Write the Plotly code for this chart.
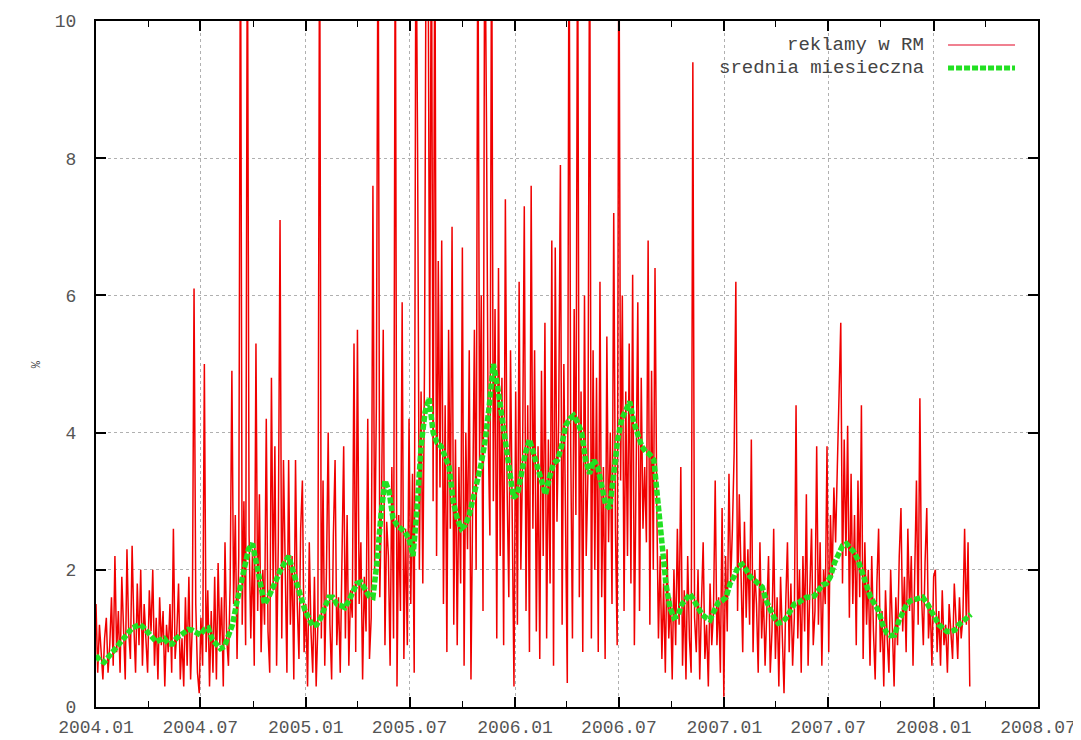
import pandas as pd
import plotly.graph_objects as go

# daily share of ads (sampled every 3 days), percent
red_start = "2004-01-01"
red_values = [
    1.5,0.5,1.2,0.8,0.4,1.0,1.3,0.5,0.9,1.6,
    0.6,2.2,0.8,1.4,0.5,1.9,1.0,0.4,2.3,1.1,
    0.7,2.35,1.2,0.5,1.8,0.9,2.0,0.6,1.5,1.0,
    0.5,1.7,1.1,2.0,0.6,1.3,0.4,1.6,0.9,1.4,
    0.3,1.2,0.8,1.5,0.5,2.6,0.7,1.1,1.8,0.4,
    1.0,0.3,1.6,0.6,1.9,0.4,1.2,6.1,1.5,0.5,
    0.2,1.3,0.6,5.0,0.8,1.7,0.3,1.4,0.5,1.9,
    0.4,2.1,0.9,1.6,0.3,2.4,1.0,0.6,1.8,4.9,
    1.5,2.8,0.7,2.2,12,1.2,3.0,0.9,12,2.5,
    1.0,2.3,0.6,5.3,1.4,3.1,0.8,2.0,1.2,4.2,
    1.1,0.5,4.8,1.7,3.8,0.6,2.4,7.1,1.0,3.6,
    1.8,0.5,3.6,1.2,2.2,0.4,3.6,1.5,0.7,2.6,
    3.3,0.8,1.5,0.3,2.4,1.1,0.5,1.9,0.3,1.2,
    12,1.0,3.3,0.6,2.0,4.0,1.2,0.4,2.5,3.6,
    0.9,1.6,0.5,2.2,3.8,1.0,2.8,0.6,1.7,1.3,
    5.3,0.8,5.5,1.5,2.4,0.4,1.9,1.1,4.2,0.7,
    1.3,7.6,2.0,4.4,12,1.6,3.0,5.5,0.9,2.7,
    2.2,0.6,3.5,1.0,12,0.3,2.8,1.4,5.9,0.7,
    2.6,0.9,4.2,1.5,3.4,0.5,12,8.0,2.0,4.6,
    1.8,5.0,12,12,4.5,12,3.0,12,2.2,6.5,
    3.2,6.8,1.5,4.4,0.8,5.5,2.6,7.0,1.2,3.9,
    0.9,3.5,1.8,6.7,0.6,4.0,2.3,5.2,0.4,3.0,
    5.5,2.0,12,3.6,6.0,1.4,12,8.6,4.0,2.5,
    12,3.0,5.8,1.0,6.4,2.2,4.8,0.9,7.4,3.2,
    1.6,5.2,2.4,0.3,4.6,1.2,6.2,2.0,3.6,7.3,
    1.4,4.4,0.8,7.6,2.6,5.2,1.1,3.8,0.7,4.9,
    2.2,5.6,1.0,3.9,1.8,6.8,0.6,6.7,2.7,4.2,
    7.9,1.2,5.0,2.4,0.35,12,3.8,1.0,5.8,2.8,
    12,1.6,4.6,0.8,6.0,2.2,3.4,12,1.0,5.2,
    2.0,4.8,0.8,6.2,1.6,3.5,0.7,5.4,2.4,4.0,
    1.5,7.2,2.6,0.9,12,3.3,6.0,1.4,4.6,2.2,
    5.3,1.8,6.3,0.9,3.9,5.9,1.4,4.8,2.6,3.5,
    2.4,6.8,1.2,4.9,2.0,6.4,3.0,1.0,2.2,0.7,
    1.8,0.5,2.3,1.0,1.6,0.4,2.0,0.9,2.6,1.2,
    3.5,0.6,1.7,0.4,2.2,1.0,0.5,9.4,1.3,0.8,
    2.0,0.4,1.5,2.4,0.7,1.2,0.3,1.8,0.9,1.4,
    3.3,0.9,1.6,0.5,2.9,0.15,2.2,1.1,3.4,1.8,
    2.6,3.7,6.2,1.4,3.1,2.0,0.8,2.7,1.3,2.3,
    1.2,3.9,0.8,2.0,1.5,0.5,2.4,1.0,1.7,0.6,
    1.4,2.2,0.5,1.1,2.6,0.7,1.6,0.3,1.9,0.9,
    0.2,1.5,2.4,0.8,1.8,0.6,1.3,4.4,1.0,2.0,
    0.5,2.2,1.1,3.1,0.6,1.7,2.6,0.9,1.4,3.8,
    1.2,2.4,0.6,2.0,1.5,3.8,0.8,2.8,1.9,3.2,
    2.4,3.5,4.7,5.6,1.8,3.9,2.2,4.1,1.3,3.4,
    1.5,2.8,0.9,3.3,1.6,4.4,0.7,2.4,1.2,2.0,
    0.6,2.2,1.1,0.4,1.8,2.6,0.8,1.4,0.3,1.7,
    1.0,0.5,2.0,1.3,0.3,1.6,0.9,2.2,2.9,1.1,
    1.9,0.8,2.6,1.4,2.2,0.6,1.8,3.3,1.2,4.5,
    1.6,0.9,2.1,2.9,1.0,1.5,0.6,1.9,2.0,0.8,
    1.4,0.6,1.7,0.9,1.2,0.5,1.5,1.0,0.7,1.8,
    1.1,0.7,1.6,1.0,1.3,2.6,1.2,2.4,0.3,
]

# monthly (rolling) mean, sampled weekly
green_start = "2004-01-01"
green_values = [
    0.75,0.68,0.65,0.72,0.8,0.87,0.95,1.03,1.1,1.15,
    1.18,1.2,1.15,1.08,1.0,0.95,0.98,1.0,0.92,0.92,
    1.0,1.05,1.1,1.13,1.12,1.08,1.05,1.13,1.15,0.98,
    0.9,0.85,0.88,1.05,1.2,1.5,1.75,2.05,2.3,2.38,
    2.1,1.75,1.5,1.6,1.75,1.85,2.0,2.1,2.2,2.0,
    1.8,1.6,1.42,1.3,1.18,1.2,1.3,1.45,1.6,1.6,
    1.5,1.48,1.45,1.55,1.7,1.8,1.82,1.7,1.62,1.6,
    2.1,2.8,3.3,3.15,2.75,2.65,2.6,2.55,2.45,2.2,
    2.9,3.8,4.3,4.5,4.0,3.85,3.8,3.65,3.5,3.0,
    2.75,2.6,2.65,2.8,3.1,3.3,3.55,3.9,4.4,5.0,
    4.7,4.3,3.9,3.4,3.05,3.1,3.45,3.7,3.9,3.7,
    3.45,3.25,3.1,3.35,3.55,3.6,3.8,4.1,4.2,4.25,
    4.15,4.0,3.6,3.4,3.6,3.5,3.2,2.95,2.9,3.4,
    3.9,4.2,4.35,4.45,4.15,3.95,3.8,3.72,3.68,3.6,
    2.95,2.3,1.8,1.45,1.3,1.33,1.5,1.57,1.65,1.55,
    1.45,1.35,1.3,1.27,1.4,1.52,1.55,1.6,1.8,1.9,
    2.05,2.08,2.0,1.9,1.85,1.8,1.75,1.55,1.4,1.3,
    1.22,1.24,1.3,1.4,1.5,1.52,1.57,1.6,1.6,1.62,
    1.7,1.78,1.8,1.9,2.1,2.25,2.35,2.38,2.3,2.25,
    2.12,1.95,1.75,1.6,1.5,1.4,1.2,1.08,1.04,1.05,
    1.25,1.4,1.5,1.55,1.57,1.6,1.6,1.52,1.4,1.32,
    1.2,1.15,1.1,1.1,1.12,1.2,1.25,1.3,1.35,
]

series_names = ["reklamy w RM", "srednia miesieczna"]
y_title = "%"

red_dates = pd.date_range(red_start, periods=len(red_values), freq="3D")
green_dates = pd.date_range(green_start, periods=len(green_values), freq="7D")

RED = "#f00000"
GREEN = "#22e022"
FONT = "Liberation Mono"

fig = go.Figure()
fig.add_trace(go.Scatter(x=red_dates, y=red_values, mode="lines",
                         line=dict(color=RED, width=1.5), name=series_names[0],
                         showlegend=False))
fig.add_trace(go.Scatter(x=green_dates, y=green_values, mode="lines",
                         line=dict(color=GREEN, width=5.5, dash="6px,2px"),
                         name=series_names[1], showlegend=False))

axis_common = dict(
    showline=True, linecolor="black", linewidth=2, mirror="ticks",
    ticks="inside", tickcolor="black", tickwidth=2, ticklen=10,
    showgrid=True, gridcolor="#b0b0b0", gridwidth=1, griddash="dot",
    zeroline=False, automargin=False,
    tickfont=dict(family=FONT, size=18, color="#555555"),
)

fig.update_xaxes(
    type="date", range=["2004-01-01", "2008-07-01"],
    tick0="2004-01-01", dtick="M6", tickformat="%Y.%m",
    ticklabelstandoff=2,
    minor=dict(tick0="2004-01-01", dtick="M3", ticks="inside", ticklen=6,
               tickcolor="black", tickwidth=1, showgrid=False),
    **axis_common,
)
fig.update_yaxes(
    range=[0, 10], tick0=0, dtick=2, ticklabelstandoff=14,
    **axis_common,
)

# legend drawn gnuplot-style (text right-aligned, key sample to the right)
legend_rows = [(0.965, series_names[0]), (0.9315, series_names[1])]
for (yy, txt) in legend_rows:
    fig.add_annotation(xref="paper", yref="paper", x=0.881, y=yy, text=txt,
                       showarrow=False, xanchor="right", yanchor="middle",
                       font=dict(family=FONT, size=19, color="#444444"))
fig.add_shape(type="line", xref="paper", yref="paper",
              x0=0.9045, x1=0.9756, y0=0.965, y1=0.965,
              line=dict(color="#f08090", width=2))
fig.add_shape(type="line", xref="paper", yref="paper",
              x0=0.9045, x1=0.9756, y0=0.9315, y1=0.9315,
              line=dict(color=GREEN, width=5, dash="6px,2px"))

fig.add_annotation(xref="paper", yref="paper", x=-0.072, y=0.5, text=y_title,
                   showarrow=False, textangle=-90,
                   font=dict(family=FONT, size=12, color="#444444"))

# the page body adds an 8px offset, so the figure is sized to fit the window
fig.update_layout(
    width=1073, height=732,
    margin=dict(l=88, r=43, t=13, b=33),
    paper_bgcolor="white", plot_bgcolor="white",
    showlegend=False,
)

fig.write_html("out.html")
